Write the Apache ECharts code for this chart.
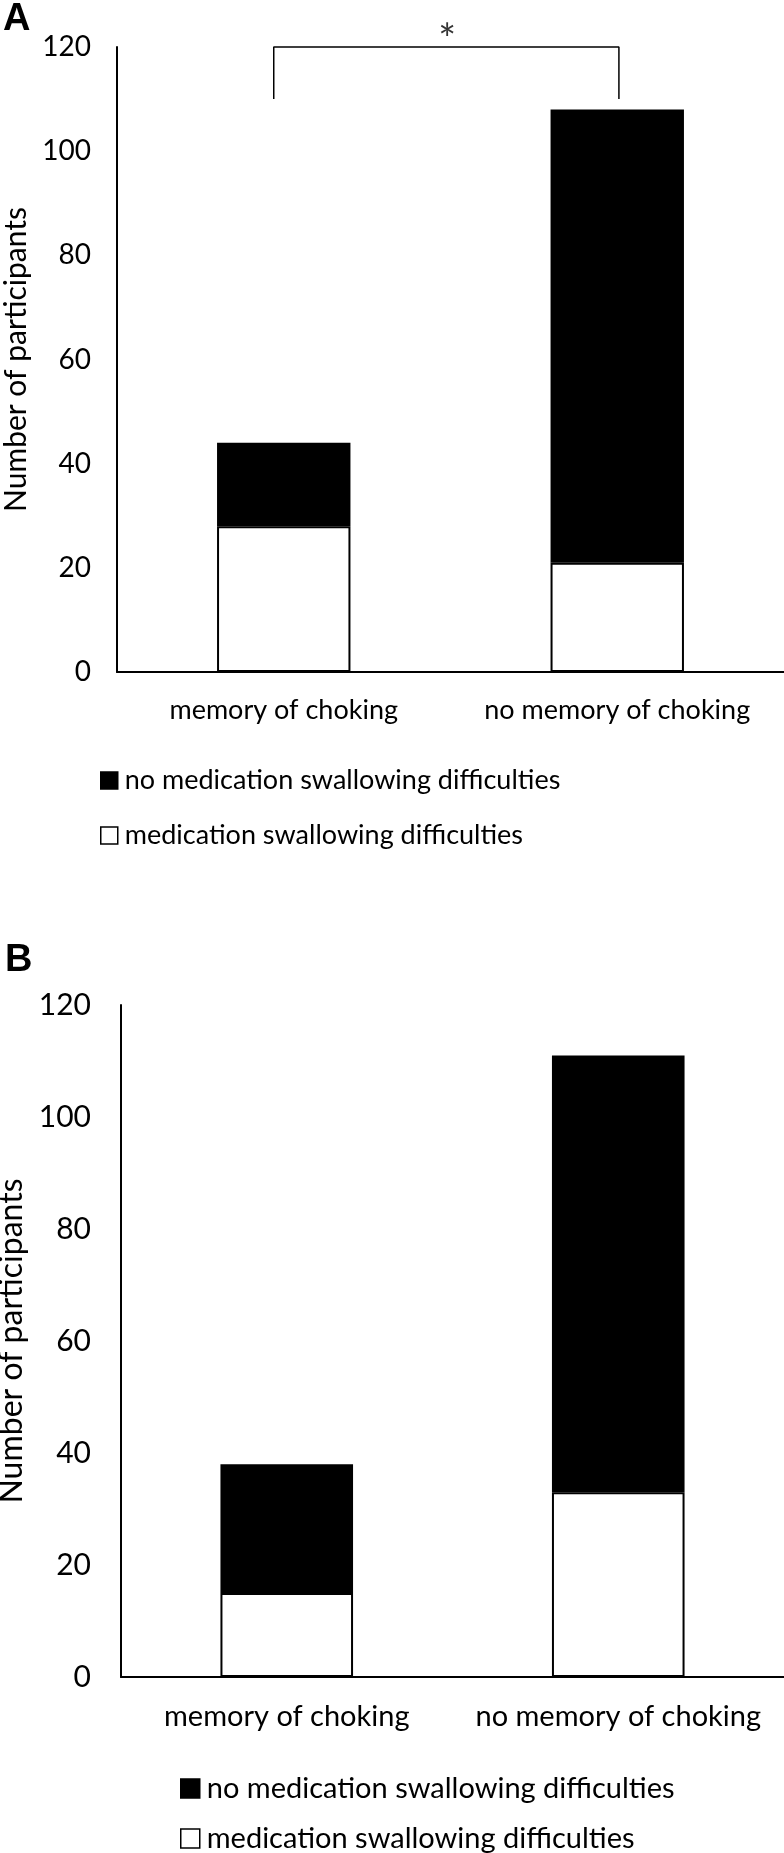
<!DOCTYPE html>
<html>
<head>
<meta charset="utf-8">
<script src="https://cdn.jsdelivr.net/npm/echarts@6/dist/echarts.min.js"></script>
<style>
html,body{margin:0;padding:0;background:#fff;}
#c{width:784px;height:1853px;}
</style>
</head>
<body>
<div id="c"></div>
<script>
// ---- data ----
const categories = ['memory of choking', 'no memory of choking'];
const seriesNames = ['no medication swallowing difficulties', 'medication swallowing difficulties'];
// Panel A
const aSwallow = [28, 21];
const aNoSwallow = [16, 87];
// Panel B
const bSwallow = [15, 33];
const bNoSwallow = [23, 78];
// axis
const yMin = 0, yMax = 120, yStep = 20;
// significance bracket (panel A), on a 0..2 value scale spanning the two categories
const bracketX = [0.47, 0.47, 1.505, 1.505];
const bracketY = [110, 120, 120, 110];
const starX = [0.99];
const starY = [120];
const starText = '*';

const FONT = 'Lato, "Open Sans", sans-serif';
const chart = echarts.init(document.getElementById('c'), null, {renderer: 'canvas'});

function yAxisCfg(gridIndex, fs, nameFs, nameGap, margin) {
  return {
    type: 'value', gridIndex, min: yMin, max: yMax, interval: yStep,
    splitLine: {show: false}, axisTick: {show: false},
    axisLine: {show: true, lineStyle: {color: '#000', width: 2}},
    axisLabel: {color: '#000', fontSize: fs, fontFamily: FONT, margin},
    name: 'Number of participants', nameLocation: 'middle', nameRotate: 90, nameGap,
    nameTextStyle: {color: '#000', fontSize: nameFs, fontFamily: FONT}
  };
}
function xAxisCfg(gridIndex, fs, margin) {
  return {
    type: 'category', gridIndex, data: categories,
    axisTick: {show: false},
    axisLine: {show: true, lineStyle: {color: '#000', width: 2}},
    axisLabel: {color: '#000', fontSize: fs, fontFamily: FONT, margin, interval: 0}
  };
}
function legendCfg(name, left, top, size, fs) {
  return {
    left, top, padding: 0, orient: 'vertical', itemWidth: size, itemHeight: size,
    icon: 'rect', data: [name], selectedMode: false,
    itemStyle: {borderColor: '#000', borderWidth: 1.5},
    textStyle: {color: '#000', fontSize: fs, fontFamily: FONT, padding: [0, 0, 0, 2]}
  };
}
const whiteStyle = {color: '#fff', borderColor: '#000', borderWidth: 2};
const blackStyle = {color: '#000', borderColor: '#000', borderWidth: 2};

chart.setOption({
  animation: false,
  backgroundColor: '#fff',
  title: [
    {text: 'A', left: 3, top: 1, padding: 0, textStyle: {fontSize: 38, fontWeight: 'bold', fontFamily: '"Liberation Sans", Arial', color: '#000'}},
    {text: 'B', left: 5, top: 942, padding: 0, textStyle: {fontSize: 38, fontWeight: 'bold', fontFamily: '"Liberation Sans", Arial', color: '#000'}}
  ],
  grid: [
    {left: 117, top: 47, right: 0, height: 625, containLabel: false, outerBoundsMode: 'none'},
    {left: 121, top: 1005, right: 0, height: 672, containLabel: false, outerBoundsMode: 'none'}
  ],
  xAxis: [
    xAxisCfg(0, 27, 25),
    xAxisCfg(1, 29, 25),
    {type: 'value', gridIndex: 0, min: 0, max: 2, show: false}
  ],
  yAxis: [
    yAxisCfg(0, 28, 30, 77, 26),
    yAxisCfg(1, 30, 32, 88, 30)
  ],
  legend: [
    legendCfg(seriesNames[0], 100, 767, 17, 27),
    legendCfg(seriesNames[1], 100, 822, 17, 27),
    legendCfg(seriesNames[0], 180, 1774, 19, 29),
    legendCfg(seriesNames[1], 180, 1824, 19, 29)
  ],
  series: [
    {name: seriesNames[1], type: 'bar', stack: 'a', xAxisIndex: 0, yAxisIndex: 0, barWidth: '40%', data: aSwallow, itemStyle: whiteStyle},
    {name: seriesNames[0], type: 'bar', stack: 'a', xAxisIndex: 0, yAxisIndex: 0, barWidth: '40%', data: aNoSwallow, itemStyle: blackStyle},
    {name: seriesNames[1], type: 'bar', stack: 'b', xAxisIndex: 1, yAxisIndex: 1, barWidth: '40%', data: bSwallow, itemStyle: whiteStyle},
    {name: seriesNames[0], type: 'bar', stack: 'b', xAxisIndex: 1, yAxisIndex: 1, barWidth: '40%', data: bNoSwallow, itemStyle: blackStyle},
    {
      name: 'bracket', type: 'line', xAxisIndex: 2, yAxisIndex: 0, clip: false,
      data: bracketX.map((x, i) => [x, bracketY[i]]),
      symbol: 'none', lineStyle: {color: '#000', width: 1.5}, silent: true
    },
    {
      name: 'star', type: 'scatter', xAxisIndex: 2, yAxisIndex: 0, clip: false,
      data: starX.map((x, i) => [x, starY[i]]), symbolSize: 0,
      label: {show: true, position: 'top', distance: 0, offset: [0, 14], formatter: starText, color: '#000', fontSize: 42, fontFamily: FONT}
    }
  ]
});
</script>
</body>
</html>
